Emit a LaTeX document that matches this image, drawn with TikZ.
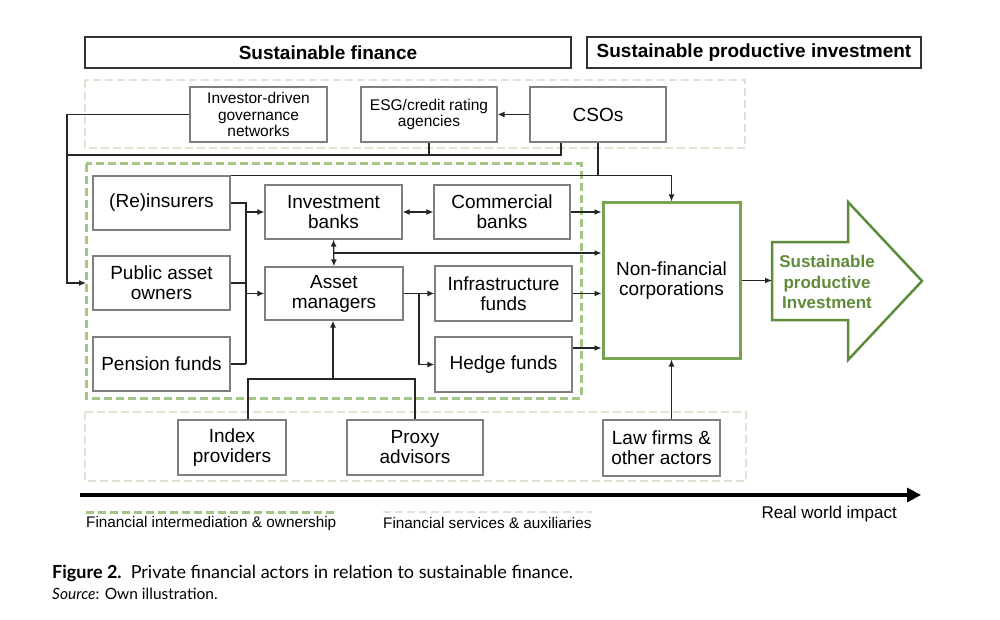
\documentclass[tikz,border=0pt]{standalone}
\usepackage{fontspec}
\setmainfont{Liberation Sans}
\newfontfamily\capfont{Lato}
\usetikzlibrary{arrows.meta}
\definecolor{boxgray}{HTML}{7F7F7F}
\definecolor{dgreen}{HTML}{A3C585}
\definecolor{lgreen}{HTML}{DCE5D2}
\definecolor{nfcgreen}{HTML}{77A352}
\definecolor{arrgreen}{HTML}{5F8C3A}
\begin{document}
\begin{tikzpicture}[x=1pt,y=-1pt,
  box/.style={draw=boxgray, line width=1.3pt, fill=white, inner sep=0pt, align=center, font=\fontsize{19}{20}\selectfont},
  smallbox/.style={box, font=\fontsize{15.5}{16.5}\selectfont},
  hdr/.style={draw=black!80, line width=1.5pt, inner sep=0pt, font=\bfseries\fontsize{19}{22}\selectfont},
  conn/.style={line width=1.25pt, draw=black!85},
  arr/.style={conn, -{Latex[length=7pt,width=6pt]}},
  darr/.style={conn, {Latex[length=7pt,width=6pt]}-{Latex[length=7pt,width=6pt]}},
  innerdash/.style={draw=dgreen, line width=3pt, dash pattern=on 8pt off 4pt},
  outerdash/.style={draw=lgreen, line width=2.5pt, dash pattern=on 8pt off 4pt},
  legend/.style={font=\fontsize{15.3}{17}\selectfont, inner sep=0pt}
]
\useasboundingbox (0,0) rectangle (1000,620);
\fill[white] (0,0) rectangle (1000,620);

% headers
\node[hdr, minimum width=486, minimum height=31] (sf) at (328,52.5) {Sustainable finance};
\node[hdr, minimum width=334, minimum height=31] (spi) at (754,52.5) {Sustainable productive investment};

% dashed group boxes
\draw[outerdash] (85,80) rectangle (745,148);
\draw[innerdash] (86,164) rectangle (581,398);
\draw[outerdash] (85,412) rectangle (746,481);

% top row
\node[smallbox, minimum width=137, minimum height=55] (inv) at (258.5,114.5) {Investor-driven\\governance\\networks};
\node[smallbox, minimum width=136, minimum height=55] (esg) at (429,114.5) {ESG/credit rating\\agencies};
\node[box, minimum width=136, minimum height=55] (cso) at (598,114.5) {CSOs};

% financial intermediation
\node[box, minimum width=137, minimum height=54] (re) at (161.5,203) {(Re)insurers};
\node[box, minimum width=137, minimum height=54] (pao) at (161.5,283) {Public asset\\owners};
\node[box, minimum width=137, minimum height=54] (pen) at (161.5,364) {Pension funds};
\node[box, minimum width=137, minimum height=54] (ib) at (333.5,212) {Investment\\banks};
\node[box, minimum width=136, minimum height=54] (cb) at (502,212) {Commercial\\banks};
\node[box, minimum width=138, minimum height=53] (am) at (334,293.5) {Asset\\managers};
\node[box, minimum width=137, minimum height=55] (inf) at (503.5,293.5) {Infrastructure\\funds};
\node[box, minimum width=137, minimum height=55] (hed) at (503.5,364.5) {Hedge funds};

% NFC
\node[draw=nfcgreen, line width=3pt, fill=white, inner sep=0pt, align=center,
      font=\fontsize{19}{20}\selectfont, minimum width=137, minimum height=155] (nfc) at (671.5,280.5) {Non-financial\\corporations};

% big arrow
\draw[draw=arrgreen, line width=2.5pt, fill=white, line join=miter]
  (772,242) -- (848,242) -- (848,202) -- (922,281) -- (848,360) -- (848,320) -- (772,320) -- cycle;
\coordinate (bigin) at (772,280.5);
\node[align=center, text=arrgreen, font=\bfseries\fontsize{17}{20.5}\selectfont, inner sep=0pt] (spiarrow) at (827,282) {Sustainable\\productive\\Investment};

% bottom row
\node[box, minimum width=108, minimum height=55] (idx) at (232,447.5) {Index\\providers};
\node[box, minimum width=136, minimum height=55] (prx) at (415,447.5) {Proxy\\advisors};
\node[box, minimum width=117, minimum height=56] (law) at (661.5,448) {Law firms \&\\other actors};

% connectors: top
\coordinate (lft) at (67,155);
\draw[conn] (inv.west) -- (67,114.5) -- (lft);
\draw[arr] (lft) -- (67,283) -- (86,283);
\draw[conn] (cso.south -| 561,0) -- (561,155) -- (lft);
\draw[conn] (esg.south) -- (esg.south |- lft);
\draw[arr] (cso.west) -- (esg.east);
\draw[conn] (cso.south) -- (598,176);
\draw[arr] (re.north east) -- (nfc.north |- re.north east) -- (nfc.north);

% connectors: owners
\coordinate (jn) at (246,203);
\draw[conn] (re.east) -- (jn) -- (246,364);
\draw[arr] (jn) -- (246,212) -- (ib.west);
\draw[conn] (pao.east) -- (246,283);
\draw[conn] (pen.east) -- (246,364);
\draw[arr] (246,293.5) -- (am.west);

% banks
\draw[darr] (ib.east) -- (cb.west);
\draw[arr] (cb.east) -- (nfc.west |- cb.east);
\draw[darr] (ib.south) -- (am.north);
\draw[arr] (334,253) -- (nfc.west |- 0,253);

% asset managers to funds
\draw[conn] (am.east) -- (419,293.5);
\draw[arr] (419,293.5) -- (inf.west);
\draw[arr] (419,293.5) -- (419,364.5) -- (hed.west);
\draw[arr] (inf.east) -- (nfc.west |- inf.east);
\draw[arr] (hed.east |- 0,348) -- (nfc.west |- 0,348);

% bottom connectors
\draw[conn] (idx.north -| 248,0) -- (248,379) -- (415,379) -- (prx.north);
\draw[arr] (333,379) -- (am.south -| 333,0);
\draw[arr] (law.north -| nfc.south) -- (nfc.south);
\draw[arr] (nfc.east) -- (bigin);

% timeline
\coordinate (t0) at (80,495);
\coordinate (t1) at (921,495);
\draw[line width=3.2pt, -{Triangle[length=14pt,width=14pt]}] (t0) -- (t1);

% legend
\draw[innerdash] (86,512) -- (336,512);
\node[legend, anchor=west] (lg1) at (86,523.5) {Financial intermediation \& ownership};
\draw[outerdash] (383,512) -- (592,512);
\node[legend, anchor=west] (lg2) at (383,523.5) {Financial services \& auxiliaries};
\node[font=\fontsize{17}{19}\selectfont, inner sep=0pt, anchor=east] (rwi) at (897,514) {Real world impact};

% caption
\node[anchor=base west, inner sep=0pt, font=\capfont\fontsize{18}{21}\selectfont] (cap1) at (52,578) {\textbf{Figure 2.}\enspace Private financial actors in relation to sustainable finance.};
\node[anchor=base west, inner sep=0pt, font=\capfont\fontsize{15.5}{18}\selectfont] (cap2) at (52,599) {\textit{Source}: Own illustration.};
\end{tikzpicture}
\end{document}
